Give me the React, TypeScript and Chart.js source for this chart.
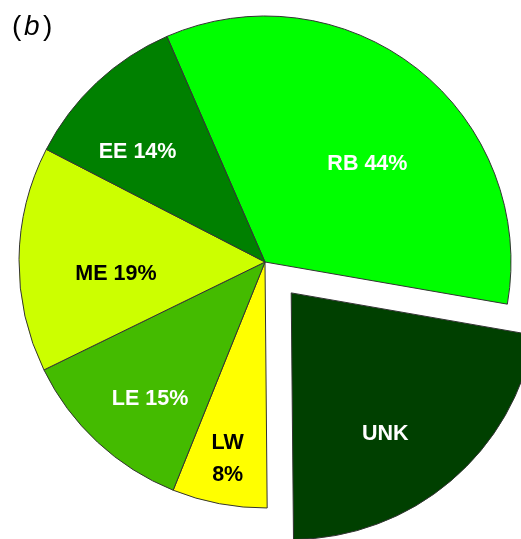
import React, { useEffect, useRef } from "react";
import { Chart, registerables } from "chart.js";

Chart.register(...registerables);

const categories = ["RB", "UNK", "LW", "LE", "ME", "EE"];
const shares = [44, 28.4, 8, 15, 19, 14];
const labelLines = [["RB 44%"], ["UNK"], ["LW", "8%"], ["LE 15%"], ["ME 19%"], ["EE 14%"]];
const sliceColors = ["#00ff00", "#004000", "#ffff00", "#44bb00", "#ccff00", "#008000"];
const labelColors = ["#ffffff", "#ffffff", "#000000", "#ffffff", "#000000", "#ffffff"];
const explodeOffsets = [0, 162, 0, 0, 0, 0];
// [fraction of radius, angular nudge in degrees]
const labelPlacement = [
  [0.575, 8.2],
  [0.69, 6.7],
  [0.817, 0],
  [0.726, -2.9],
  [0.608, -5.1],
  [0.683, -6.2],
];

const FONT = "'Liberation Sans', Arial, sans-serif";

const labelPlugin = {
  id: "sliceLabels",
  afterDatasetsDraw(chart: any) {
    const ctx = chart.ctx;
    const meta = chart.getDatasetMeta(0);
    ctx.save();
    ctx.textAlign = "center";
    ctx.textBaseline = "middle";
    ctx.font = `bold 21.5px ${FONT}`;
    meta.data.forEach((arc: any, i: number) => {
      const { x, y, startAngle, endAngle, outerRadius } = arc.getProps(
        ["x", "y", "startAngle", "endAngle", "outerRadius"],
        true
      );
      const mid = (startAngle + endAngle) / 2;
      const t = (explodeOffsets[i] || 0) / 4;
      const cx = x + Math.cos(mid) * t;
      const cy = y + Math.sin(mid) * t;
      const [frac, nudge] = labelPlacement[i];
      const a = mid + (nudge * Math.PI) / 180;
      const r = frac * outerRadius;
      const lx = cx + Math.cos(a) * r;
      const ly = cy + Math.sin(a) * r;
      const lines = labelLines[i];
      const lh = 32;
      ctx.fillStyle = labelColors[i];
      lines.forEach((ln, k) => {
        ctx.fillText(ln, lx, ly + (k - (lines.length - 1) / 2) * lh);
      });
    });
    ctx.restore();
  },
};

const panelPlugin = {
  id: "panelTag",
  afterDraw(chart: any) {
    const ctx = chart.ctx;
    ctx.save();
    ctx.fillStyle = "#000";
    ctx.textBaseline = "alphabetic";
    ctx.textAlign = "left";
    ctx.font = `28px ${FONT}`;
    ctx.fillText("(", 12, 35);
    ctx.font = `italic 28px ${FONT}`;
    ctx.fillText("b", 24, 35);
    ctx.font = `28px ${FONT}`;
    ctx.fillText(")", 43, 35);
    ctx.restore();
  },
};

export default function App() {
  const ref = useRef<HTMLCanvasElement | null>(null);
  useEffect(() => {
    if (!ref.current) return;
    const chart = new Chart(ref.current, {
      type: "pie",
      data: {
        labels: categories,
        datasets: [
          {
            data: shares,
            backgroundColor: sliceColors,
            borderColor: "#333333",
            borderWidth: 1,
            offset: explodeOffsets,
            clip: false,
          } as any,
        ],
      },
      options: {
        responsive: false,
        animation: false,
        devicePixelRatio: 1,
        rotation: -23.5,
        radius: 246,
        layout: { padding: { left: 9, right: 0, top: 0, bottom: 15 } },
        plugins: {
          legend: { display: false },
          tooltip: { enabled: false },
          title: { display: false },
        },
        events: [],
      } as any,
      plugins: [labelPlugin, panelPlugin],
    });
    return () => chart.destroy();
  }, []);
  return (
    <div style={{ position: "absolute", left: 0, top: 0, width: 521, height: 539 }}>
      <canvas ref={ref} width={521} height={539} style={{ display: "block" }} />
    </div>
  );
}
